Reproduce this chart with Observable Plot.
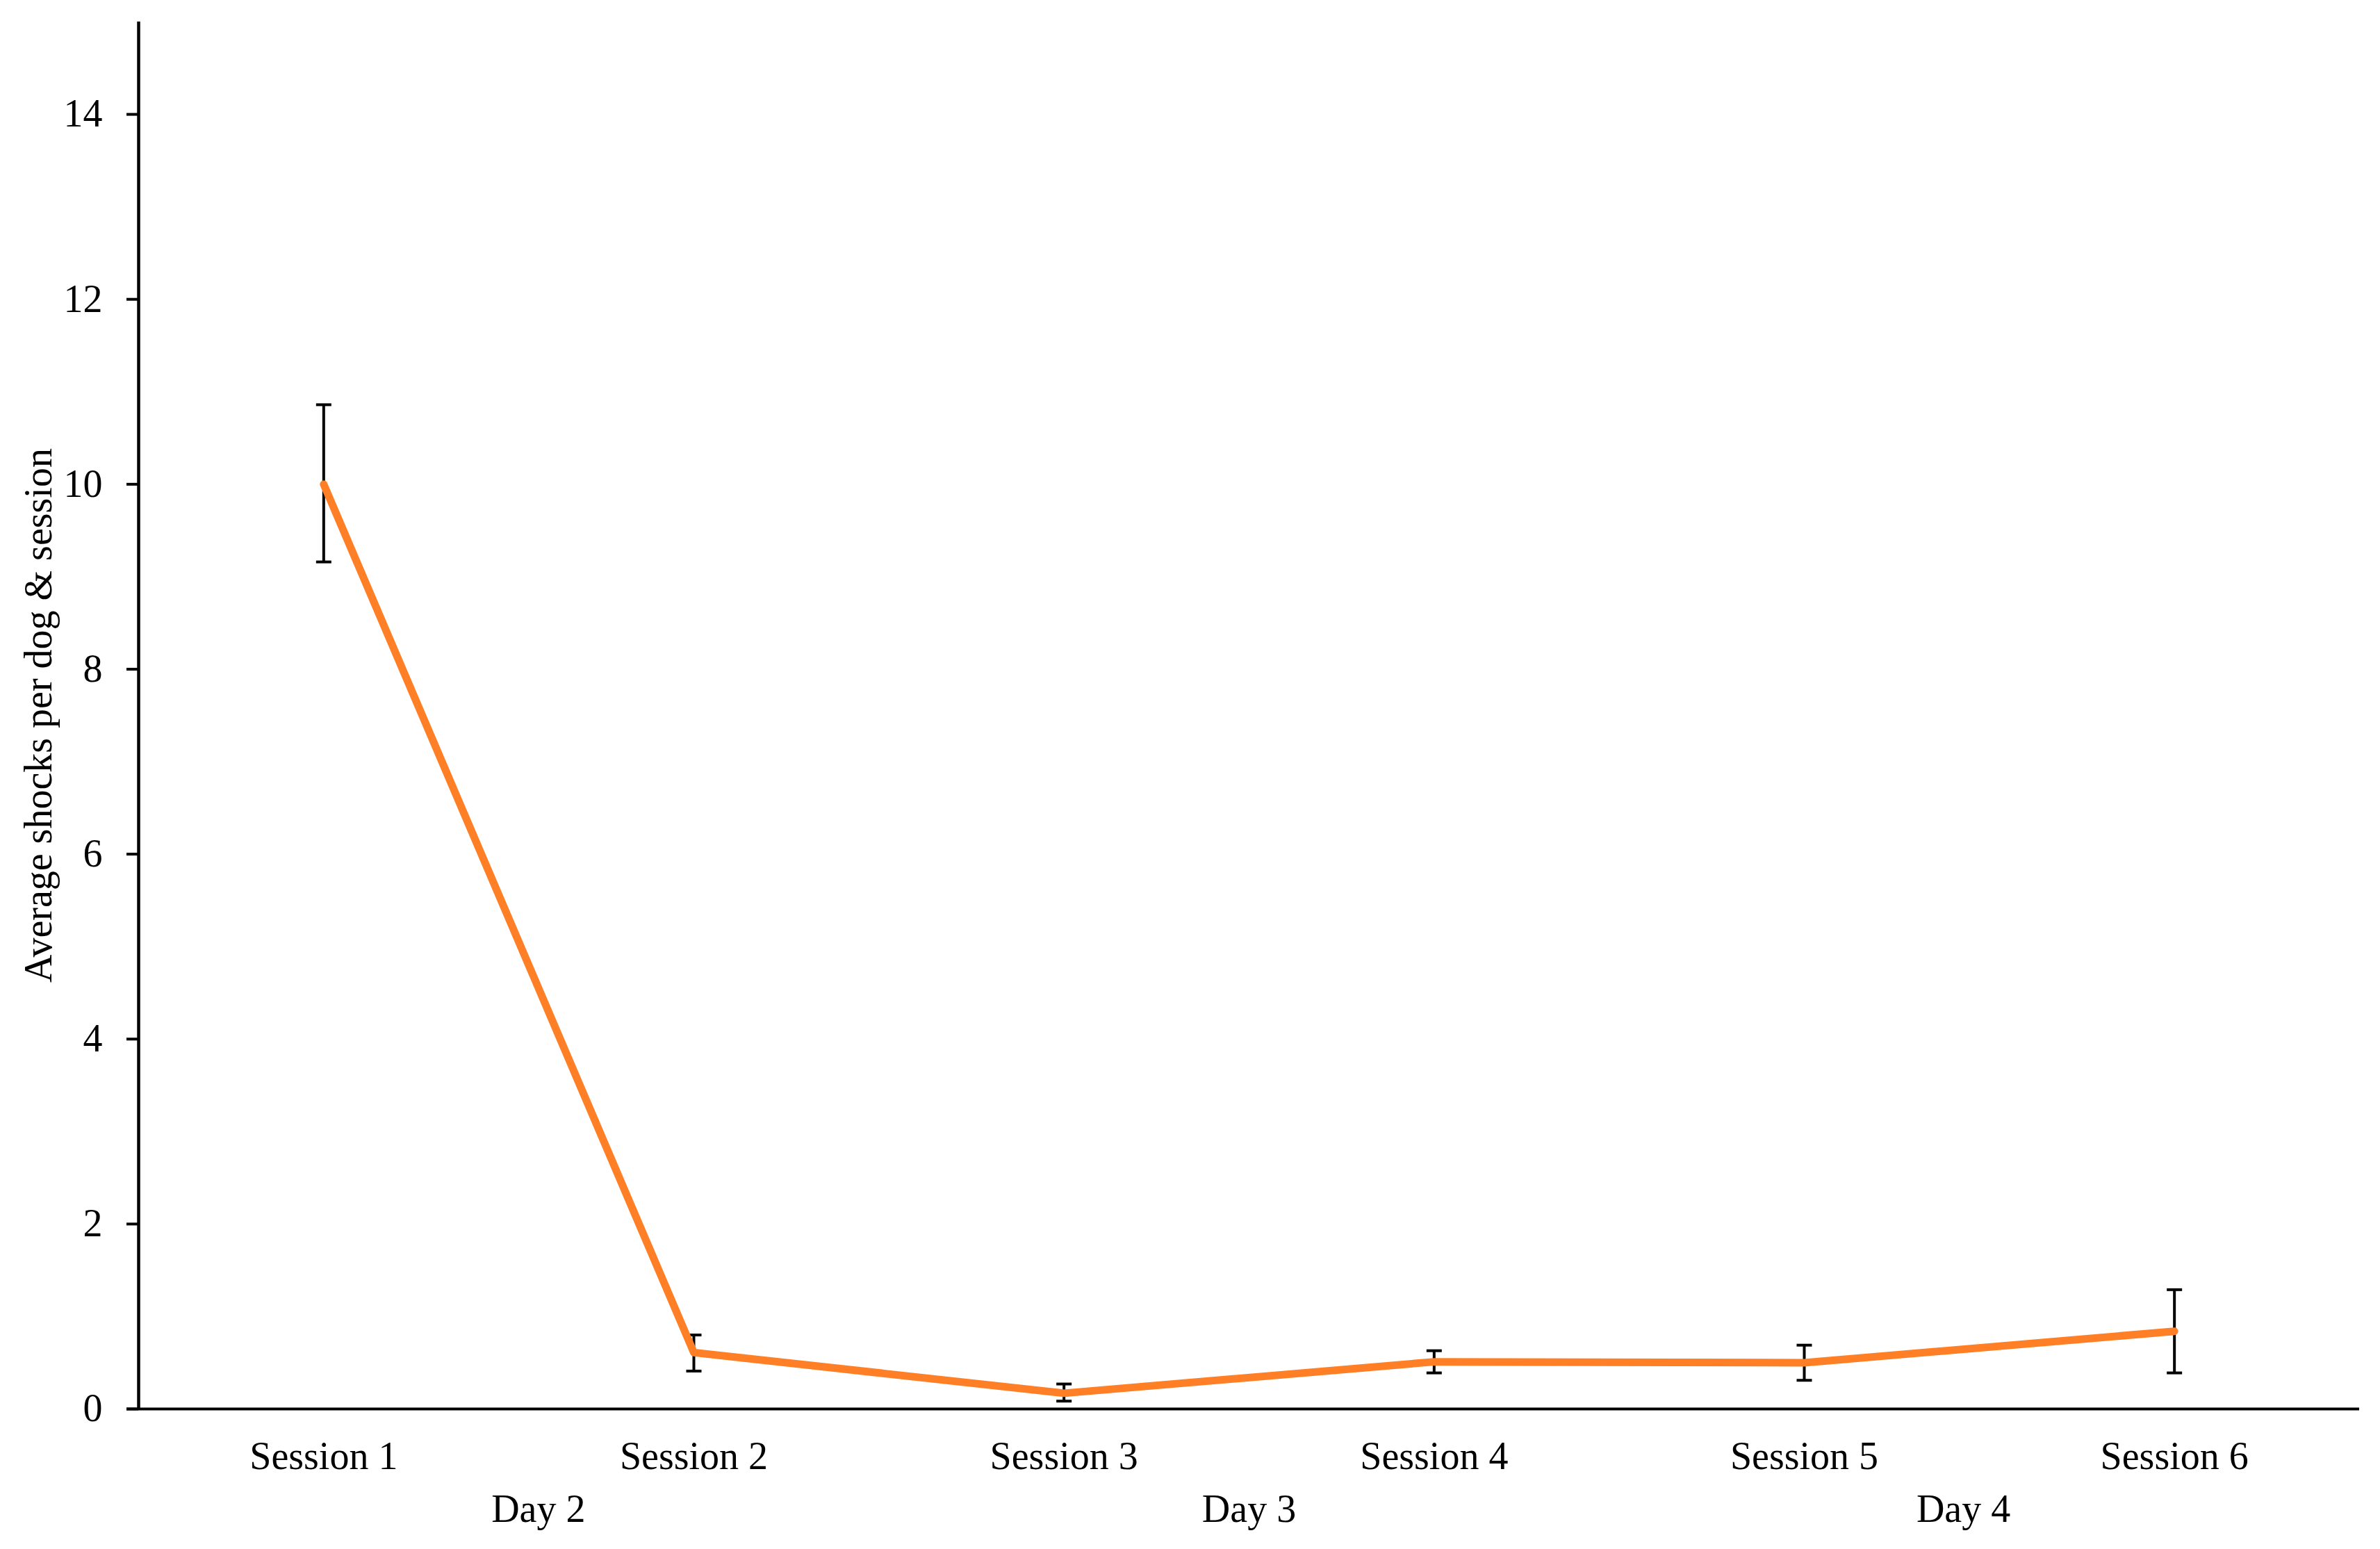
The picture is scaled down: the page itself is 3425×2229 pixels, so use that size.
<!DOCTYPE html>
<html>
<head>
<meta charset="utf-8">
<script src="https://cdn.jsdelivr.net/npm/d3@7"></script>
<script src="https://cdn.jsdelivr.net/npm/@observablehq/plot@0.6"></script>
<style>
  html, body { margin: 0; padding: 0; background: #fff; }
  svg { display: block; }
</style>
</head>
<body>
<div id="chart"></div>
<script>
const sessions = [1, 2, 3, 4, 5, 6];
const sessionLabels = ["Session 1", "Session 2", "Session 3", "Session 4", "Session 5", "Session 6"];
const means = [10.0, 0.61, 0.17, 0.51, 0.50, 0.84];
const upper = [10.86, 0.80, 0.27, 0.63, 0.69, 1.29];
const lower = [9.16, 0.41, 0.085, 0.39, 0.31, 0.39];
const days = ["Day 2", "Day 3", "Day 4"];
const dayPos = [1.58, 3.5, 5.43];
const yTicks = [0, 2, 4, 6, 8, 10, 12, 14];
const yLabel = "Average shocks per dog & session";

const data = sessions.map((s, i) => ({s, mean: means[i], hi: upper[i], lo: lower[i]}));
const dayData = days.map((d, i) => ({d, x: dayPos[i]}));

const cap = {
  draw(context, size) {
    context.moveTo(-11, 0);
    context.lineTo(11, 0);
  }
};

const chart = Plot.plot({
  width: 3425,
  height: 2229,
  marginLeft: 199,
  marginRight: 30,
  marginTop: 31,
  marginBottom: 202,
  style: {fontFamily: "'Liberation Serif', 'Times New Roman', serif", fontSize: "56px", color: "#000", background: "#fff"},
  x: {type: "linear", domain: [0.5, 6.5]},
  y: {domain: [0, 15]},
  marks: [
    Plot.axisY({ticks: yTicks, tickSize: 17, tickPadding: 35, strokeWidth: 4, label: null, fontSize: 56}),
    Plot.axisX({ticks: sessions, tickFormat: d => sessionLabels[d - 1], tickSize: 0, tickPadding: 47, label: null, fontSize: 56}),
    Plot.ruleX([0.5], {y1: 0, y2: 15, strokeWidth: 4.5, stroke: "#000"}),
    Plot.ruleY([0], {strokeWidth: 4, stroke: "#000", insetLeft: -17}),
    Plot.ruleX(data, {x: "s", y1: "lo", y2: "hi", stroke: "#000", strokeWidth: 4}),
    Plot.dot(data, {x: "s", y: "hi", symbol: cap, stroke: "#000", strokeWidth: 4, fill: "none"}),
    Plot.dot(data, {x: "s", y: "lo", symbol: cap, stroke: "#000", strokeWidth: 4, fill: "none"}),
    Plot.line(data, {x: "s", y: "mean", stroke: "#FF7F27", strokeWidth: 11, strokeLinecap: "round"}),
    Plot.text(dayData, {x: "x", text: "d", frameAnchor: "bottom", lineAnchor: "top", dy: 123, fontSize: 56, fill: "#000"}),
    Plot.text([yLabel], {frameAnchor: "left", dx: -143, rotate: -90, textAnchor: "middle", lineAnchor: "middle", fontSize: 56, fill: "#000"})
  ]
});
document.getElementById("chart").appendChild(chart);
</script>
</body>
</html>
